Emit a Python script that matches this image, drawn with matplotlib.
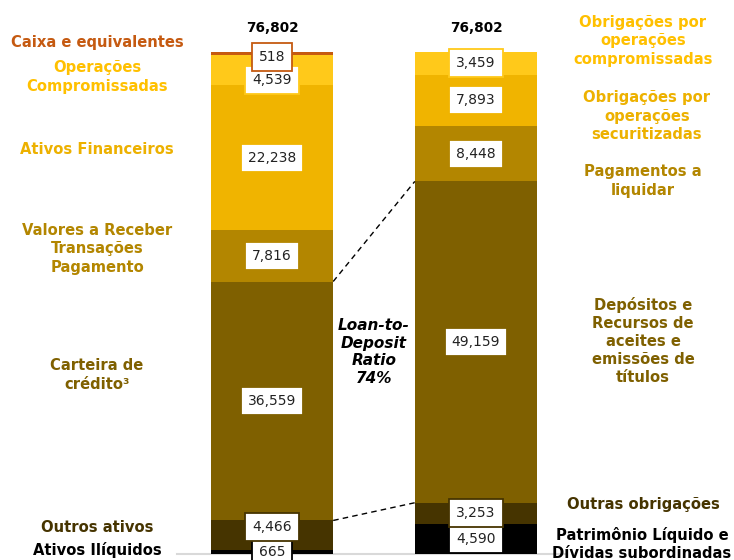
import matplotlib
matplotlib.use('Agg')
import matplotlib.pyplot as plt
import numpy as np

# balance sheet (R$ mn), stacked bottom -> top
ativos = [665, 4466, 36559, 7816, 22238, 4539, 518]
passivos = [4590, 3253, 49159, 8448, 7893, 3459]
totais = ['76,802', '76,802']

cores_ativos = ['#000000', '#463400', '#7F6000', '#B38600', '#F0B400', '#FFC91A', '#C55A11']
cores_passivos = ['#000000', '#463400', '#7F6000', '#B38600', '#F0B400', '#FFC91A']

nomes_ativos = ['Ativos Ilíquidos', 'Outros ativos', 'Carteira de\ncrédito³',
                'Valores a Receber\nTransações\nPagamento', 'Ativos Financeiros',
                'Operações\nCompromissadas', 'Caixa e equivalentes']
nomes_passivos = ['Patrimônio Líquido e\nDívidas subordinadas', 'Outras obrigações',
                  'Depósitos e\nRecursos de\naceites e\nemissões de\ntítulos',
                  'Pagamentos a\nliquidar', 'Obrigações por\noperações\nsecuritizadas',
                  'Obrigações por\noperações\ncompromissadas']
cores_nomes_ativos = ['#000000', '#463400', '#7F6000', '#B38600', '#EDB100', '#FFC000', '#C55A11']
cores_nomes_passivos = ['#000000', '#463400', '#7F6000', '#B38600', '#EDB100', '#FFC000']

ldr_texto = 'Loan-to-\nDeposit\nRatio\n74%'

# layout (pixels of the 734x560 picture)
W, H = 734, 560
pos_nomes_ativos = [(97, 550), (97, 527), (97, 375), (97, 249), (97, 150), (97, 77), (97, 42)]
pos_nomes_passivos = [(642, 544), (643, 504), (643, 341), (643, 181), (647, 116), (643, 41)]
ajuste_ativos = [0, 8, 0, 0, 0, -10, -3]   # px, up is positive
ajuste_passivos = [0, 0, 0, 0, 0, 0]

px_base, px_topo = 554, 52
escala = sum(passivos) / (px_base - px_topo)   # units per pixel

fig = plt.figure(figsize=(W / 100, H / 100), dpi=100)
ax = fig.add_axes([0, 0, 1, 1])
ax.set_xlim((0 - 272) / 204, (W - 272) / 204)
ax.set_ylim(-(H - px_base) * escala, px_base * escala)
ax.axis('off')

def fpos(x, y):
    return x / W, 1 - y / H

larg = 0.6
ax.plot([(177 - 272) / 204, (565 - 272) / 204], [0, 0], color='#D9D9D9', lw=1.5, zorder=1)

for xb, vals, cores, ajustes in [(0, ativos, cores_ativos, ajuste_ativos),
                                 (1, passivos, cores_passivos, ajuste_passivos)]:
    base = 0
    for v, c, aj in zip(vals, cores, ajustes):
        ax.bar(xb, v, width=larg, bottom=base, color=c, edgecolor='none', zorder=2)
        ax.text(xb, base + v / 2 + aj * escala, f'{v:,}', ha='center', va='center',
                fontsize=10, color='#222222', zorder=4,
                bbox=dict(boxstyle='square,pad=0.5', fc='white', ec=c, lw=1.3))
        base += v
    ax.text(xb, base + 24 * escala, totais[xb], ha='center', va='center',
            fontsize=9.8, fontweight='bold', color='black')

# dashed links between loan book and deposits
esq = np.cumsum(ativos)
dir_ = np.cumsum(passivos)
for i in [1, 2]:
    ax.plot([larg / 2, 1 - larg / 2], [esq[i], dir_[i]], color='black', lw=1,
            linestyle=(0, (4, 3)), zorder=3)

for nome, cor, (x, y) in zip(nomes_ativos, cores_nomes_ativos, pos_nomes_ativos):
    fig.text(*fpos(x, y), nome, ha='center', va='center', fontsize=10.6,
             fontweight='bold', color=cor, linespacing=1.27)
for nome, cor, (x, y) in zip(nomes_passivos, cores_nomes_passivos, pos_nomes_passivos):
    fig.text(*fpos(x, y), nome, ha='center', va='center', fontsize=10.6,
             fontweight='bold', color=cor, linespacing=1.27)

fig.text(*fpos(374, 352), ldr_texto, ha='center', va='center', fontsize=11,
         fontweight='bold', fontstyle='italic', color='black', linespacing=1.22)

plt.savefig('out.png', dpi=100)
